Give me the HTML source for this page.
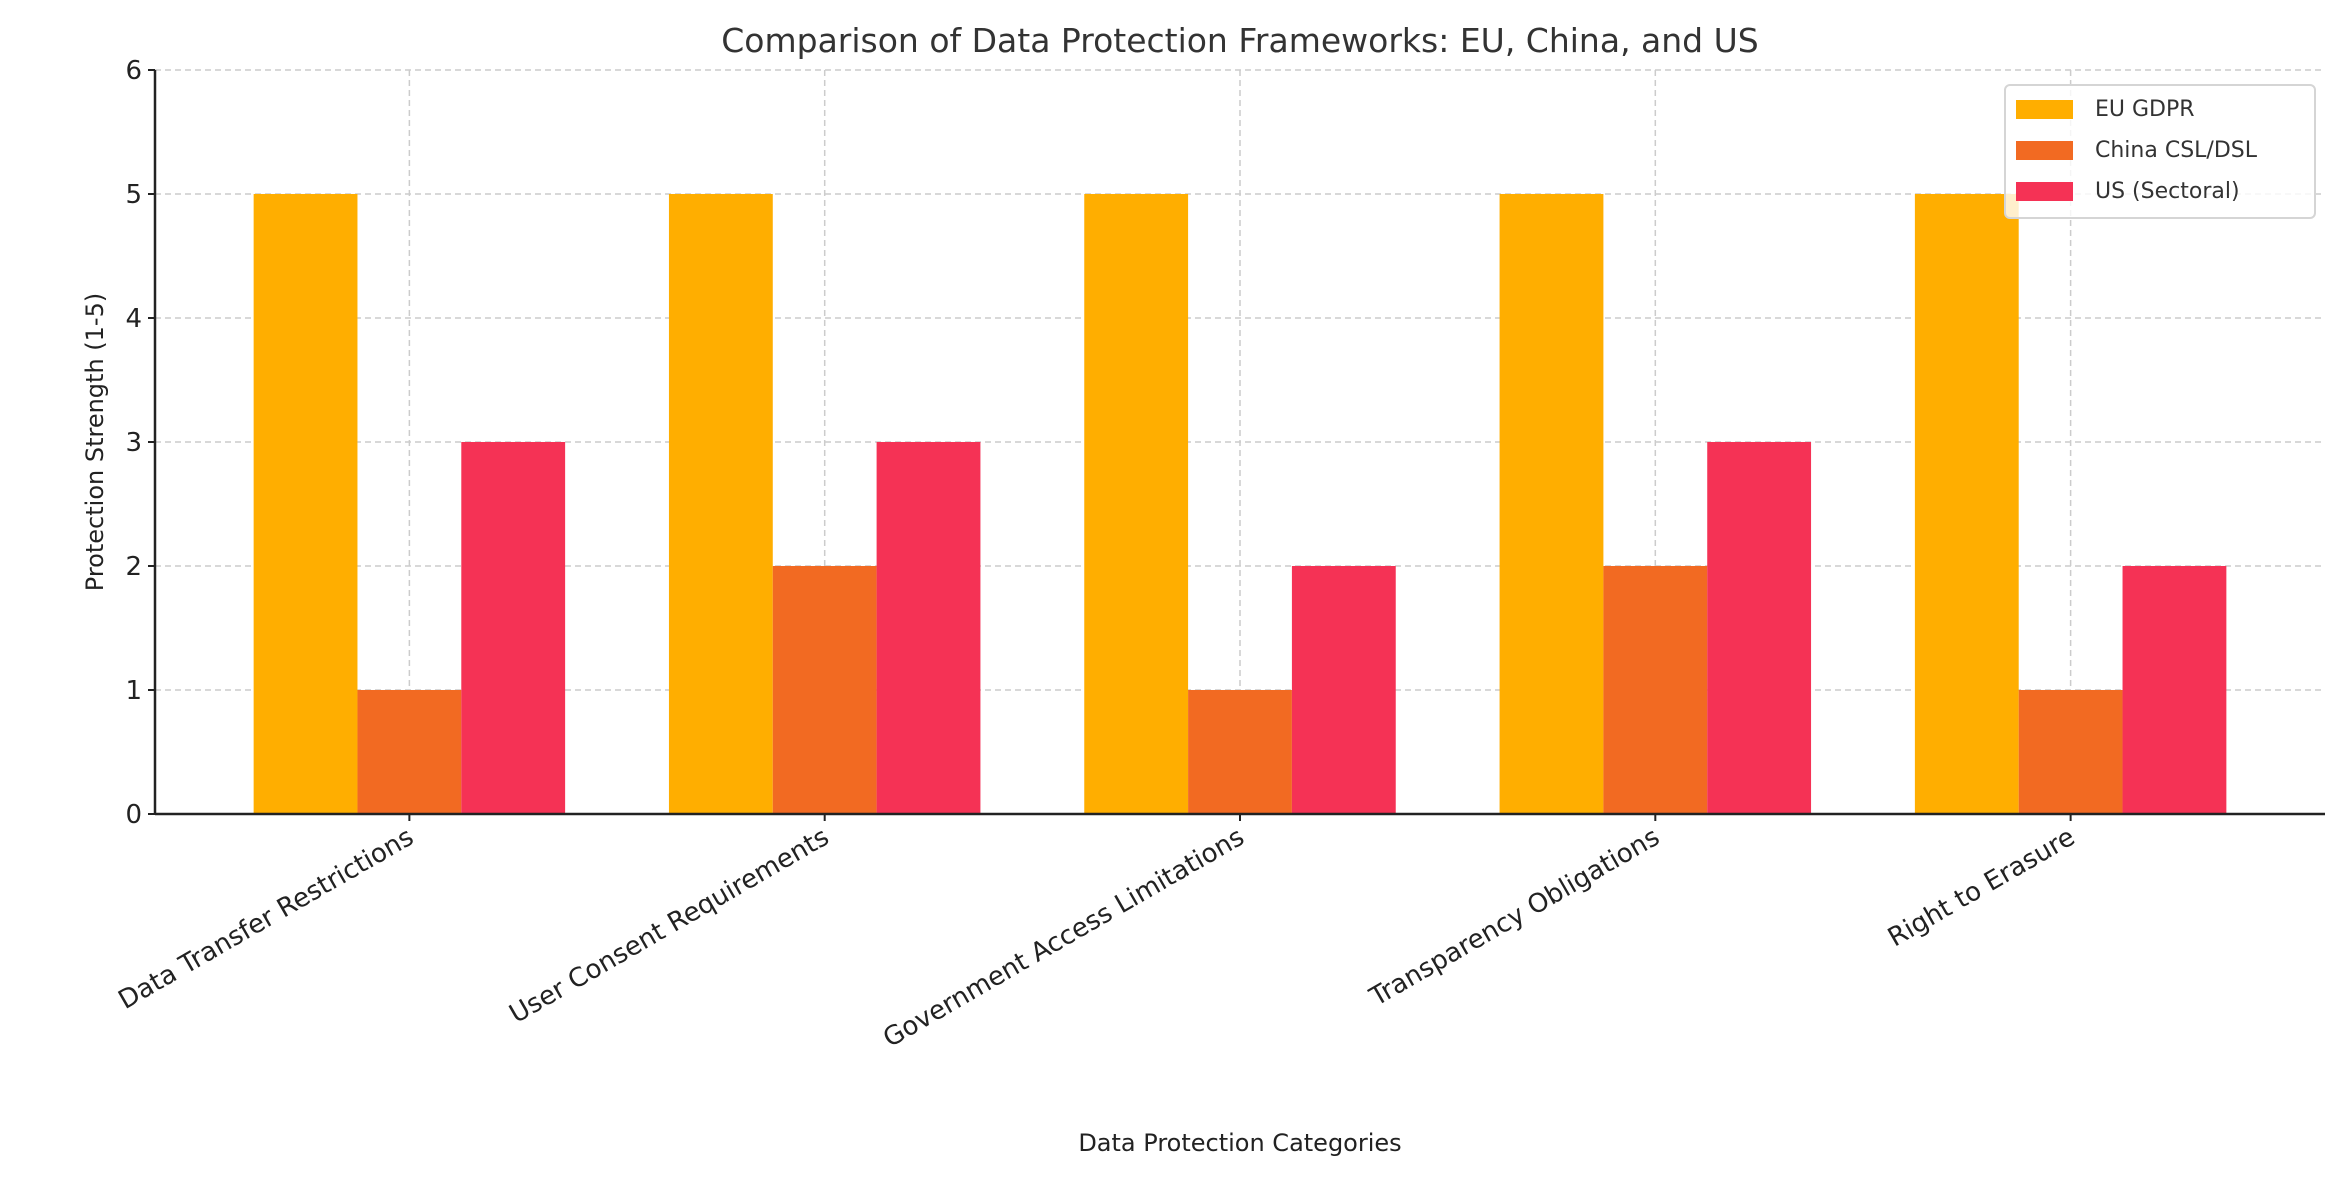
<!DOCTYPE html>
<html><head><meta charset="utf-8"><style>
body{margin:0;background:#fff}
svg{font-family:"DejaVu Sans","Liberation Sans",sans-serif}
</style></head><body>
<svg id="chart" width="2343" height="1180" xmlns="http://www.w3.org/2000/svg">
<text x="1240" y="52" font-size="33" text-anchor="middle" fill="#333">Comparison of Data Protection Frameworks: EU, China, and US</text>
<g id="grid"></g><g id="bars"></g><g id="axes"></g>
<text transform="translate(103,442) rotate(-90)" font-size="24" text-anchor="middle" fill="#222">Protection Strength (1-5)</text>
<text x="1240" y="1151" font-size="24" text-anchor="middle" fill="#222">Data Protection Categories</text>
<g>
<rect x="2005" y="85" width="310" height="133" rx="5" fill="#fff" fill-opacity="0.8" stroke="#d5d5d5" stroke-width="2"/>
<rect x="2016" y="100" width="57" height="19" fill="#FFAE00"/>
<text x="2095" y="116" font-size="22" fill="#333">EU GDPR</text>
<rect x="2016" y="141" width="57" height="19" fill="#F26A22"/>
<text x="2095" y="157" font-size="22" fill="#333">China CSL/DSL</text>
<rect x="2016" y="182" width="57" height="19" fill="#F53255"/>
<text x="2095" y="198" font-size="22" fill="#333">US (Sectoral)</text>
</g>
</svg>
<script>
const categories=["Data Transfer Restrictions","User Consent Requirements","Government Access Limitations","Transparency Obligations","Right to Erasure"];
const seriesNames=["EU GDPR","China CSL/DSL","US (Sectoral)"];
const euValues=[5,5,5,5,5];
const chinaValues=[1,2,1,2,1];
const usValues=[3,3,2,3,2];
const yTicks=[0,1,2,3,4,5,6];
const colors=["#FFAE00","#F26A22","#F53255"];
const L=155,R=2325,T=70,B=814;
const xmin=-0.6125,xmax=4.6125,ymax=6;
const xs=v=>L+(v-xmin)/(xmax-xmin)*(R-L);
const ys=v=>B-v/ymax*(B-T);
const NS="http://www.w3.org/2000/svg";
function mk(tag,attrs,parent,text){const e=document.createElementNS(NS,tag);for(const k in attrs)e.setAttribute(k,attrs[k]);if(text!==undefined)e.textContent=text;parent.appendChild(e);return e;}
const grid=document.getElementById('grid'),bars=document.getElementById('bars'),axes=document.getElementById('axes');
yTicks.forEach(t=>{
 const g=mk('line',{x1:L,x2:R,y1:ys(t),y2:ys(t),stroke:'#ccc','stroke-width':1.5,'stroke-dasharray':'6,4'},grid);
 
 
 const tk=mk('line',{x1:L-7,x2:L,y1:ys(t),y2:ys(t),stroke:'#222','stroke-width':2},axes);
 
 
 const lb=mk('text',{x:L-13,y:ys(t)+9,'font-size':26,'text-anchor':'end',fill:'#222'},axes,t);
 
 
});
categories.forEach((c,i)=>{
 const g=mk('line',{x1:xs(i),x2:xs(i),y1:T,y2:B,stroke:'#ccc','stroke-width':1.5,'stroke-dasharray':'6,4'},grid);
 
 
});
const all=[euValues,chinaValues,usValues];
const w=0.25;
all.forEach((vals,s)=>{
 vals.forEach((v,i)=>{
  const x0=xs(i+(s-1)*w-w/2),x1=xs(i+(s-1)*w+w/2);
  const r=mk('rect',{x:x0,y:ys(v),width:x1-x0,height:ys(0)-ys(v),fill:colors[s]},bars);
  
  
 });
});
mk('line',{x1:L,x2:L,y1:T,y2:B,stroke:'#222','stroke-width':2.5},axes);
mk('line',{x1:L,x2:R,y1:B,y2:B,stroke:'#222','stroke-width':2.5},axes);
categories.forEach((c,i)=>{
 const tk=mk('line',{x1:xs(i),x2:xs(i),y1:B,y2:B+7,stroke:'#222','stroke-width':2},axes);
 
 
 const lb=mk('text',{transform:`translate(${xs(i)+6},${B+28}) rotate(-30)`,'font-size':26,'text-anchor':'end',fill:'#222'},axes,c);
 
 
});
</script>
</body></html>
